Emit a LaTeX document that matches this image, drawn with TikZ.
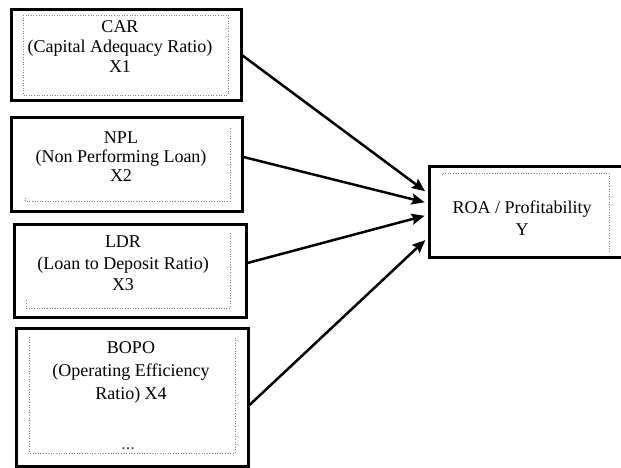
\documentclass[tikz,border=0pt]{standalone}
\usepackage{fontspec}
\setmainfont{Liberation Serif}
\usetikzlibrary{arrows.meta}

\begin{document}
\begin{tikzpicture}[x=1pt,y=-1pt,
    box/.style={draw,line width=3pt,inner sep=0pt},
    frame/.style={gray,dotted,line width=0.6pt},
    txt/.style={align=center,inner sep=0pt,anchor=north},
    arr/.style={line width=2.5pt,shorten >=3pt,-{Stealth[length=13pt,width=11pt,inset=2pt]}}]
  \useasboundingbox (0,0) rectangle (621,468);

  \node[box,minimum width=230pt,minimum height=91pt]  (car)  at (126,55.5)  {};
  \node[box,minimum width=231pt,minimum height=93pt]  (npl)  at (126.5,164.5) {};
  \node[box,minimum width=232pt,minimum height=93pt]  (ldr)  at (130,270.5) {};
  \node[box,minimum width=232pt,minimum height=138pt] (bopo) at (132,397)   {};
  \node[box,minimum width=193pt,minimum height=91pt]  (roa)  at (525.5,211.5) {};

  \draw[frame] (23,15) rectangle (228,95);
  \draw[frame] (230,128) -- (230,201) -- (25,201) -- (25,197);
  \draw[frame] (230,233) -- (230,308) -- (26,308) -- (26,300);
  \draw[frame] (29,337) -- (29,453) -- (235,453) -- (235,337);
  \draw[frame] (442,175) -- (442,173) -- (609,173) -- (609,252);

  \node[txt,font=\fontsize{18}{20}\selectfont]   (car-t)  at (120,20)  {CAR\\(Capital Adequacy Ratio)\\X1};
  \node[txt,font=\fontsize{18}{19}\selectfont]   (npl-t)  at (121,132) {NPL\\(Non Performing Loan)\\X2};
  \node[txt,font=\fontsize{18}{21.5}\selectfont] (ldr-t)  at (123,236) {LDR\\(Loan to Deposit Ratio)\\X3};
  \node[txt,font=\fontsize{18}{23}\selectfont]   (bopo-t) at (131,341) {BOPO\\(Operating Efficiency\\Ratio) X4};
  \node[txt,font=\fontsize{18}{22}\selectfont]   (roa-t)  at (522,201) {ROA / Profitability\\Y};
  \node[anchor=base,inner sep=0pt,text=darkgray,font=\fontsize{18}{18}\selectfont] (dots) at (128,449) {...};

  \draw[arr] (car.east) -- ([yshift=18.5pt]roa.west);
  \draw[arr] ([yshift=7.5pt]npl.east) -- ([yshift=8.5pt]roa.west);
  \draw[arr] ([yshift=7.5pt]ldr.east) -- ([yshift=-3.5pt]roa.west);
  \draw[arr] ([yshift=-8pt]bopo.east) -- ([yshift=-26.5pt]roa.west);
\end{tikzpicture}
\end{document}
